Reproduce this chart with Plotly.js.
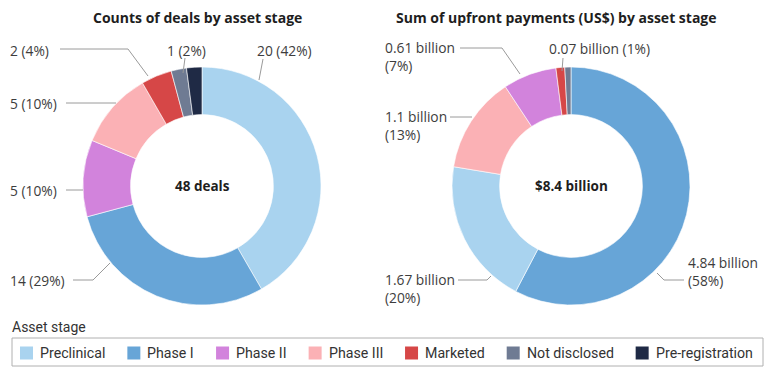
<!DOCTYPE html>
<html><head><meta charset="utf-8">
<script src="https://cdn.plot.ly/plotly-3.0.1.min.js"></script>
<style>html,body{margin:0;padding:0;background:#fff}#chart{width:767px;height:378px}</style>
</head><body><div id="chart"></div>
<script>
// ---- data ----
const stages = ['Preclinical','Phase I','Phase II','Phase III','Marketed','Not disclosed','Pre-registration'];
const dealStages = ['Preclinical','Phase I','Phase II','Phase III','Marketed','Not disclosed','Pre-registration'];
const dealCounts = [20,14,5,5,2,1,1];
const paymentStages = ['Phase I','Preclinical','Phase III','Phase II','Marketed','Not disclosed'];
const paymentBillions = [4.84,1.67,1.1,0.61,0.1,0.07];
const leftTitle = 'Counts of deals by asset stage';
const rightTitle = 'Sum of upfront payments (US$) by asset stage';
const legendTitle = 'Asset stage';

// ---- style ----
const stageColors = ['#a9d3ef','#67a5d7','#d283dc','#fbb1b5','#d64747','#6f7b93','#1f2a45'];
const W = 767, H = 378;
const px = x => x / W, py = y => 1 - y / H;
const colorOf = s => stageColors[stages.indexOf(s)];
const R = 119;
const leftC = {x: 202, y: 186}, rightC = {x: 571, y: 186};
const dom = c => ({x: [px(c.x - R), px(c.x + R)], y: [py(c.y + R), py(c.y - R)]});
const labelFont = {family: 'Open Sans, sans-serif', size: 13.8, color: '#3d3d3d'};
const lineColor = '#9a9a9a';

// label placement (layout only)
const dealLabelLayout = {
  'Preclinical':   {x: 284, y: 50, anchor: 'center', line: [[263,59],[259,80]]},
  'Not disclosed': {x: 186, y: 50, anchor: 'center', line: [[185,58],[183,73]]},
  'Marketed':      {x: 10,  y: 50, anchor: 'left', line: [[60,49],[128,49],[148,76]]},
  'Phase III':     {x: 10,  y: 103, anchor: 'left', line: [[66,103],[116,103]]},
  'Phase II':      {x: 10,  y: 190, anchor: 'left', line: [[66,190],[83,190]]},
  'Phase I':       {x: 10,  y: 280, anchor: 'left', line: [[73,280],[93,280],[110,263]]}
};
const payLabelLayout = {
  'Phase I':       {x: 688, y: 271, anchor: 'left', line: [[657,273],[664,280],[684,280]]},
  'Preclinical':   {x: 385, y: 288, anchor: 'left', line: [[458,280],[487,280],[491,276]]},
  'Phase III':     {x: 385, y: 125, anchor: 'left', line: [[450,117],[472,117]]},
  'Phase II':      {x: 385, y: 56,  anchor: 'left', line: [[460,48],[502,48],[520,74]]},
  'Not disclosed': {x: 599, y: 48,  anchor: 'center', oneLine: true, line: [[563,58],[562,71]]}
};

const sum = a => a.reduce((s, v) => s + v, 0);
const dealTotal = sum(dealCounts);
const payTotal = sum(paymentBillions);

const traces = [
  {type: 'pie', labels: dealStages, values: dealCounts, hole: 0.6, sort: false,
   direction: 'clockwise', rotation: 0, textinfo: 'none', hoverinfo: 'label+value',
   marker: {colors: dealStages.map(colorOf), line: {color: '#ffffff', width: 0.6}},
   domain: dom(leftC), showlegend: false},
  {type: 'pie', labels: paymentStages, values: paymentBillions, hole: 0.6, sort: false,
   direction: 'clockwise', rotation: 0, textinfo: 'none', hoverinfo: 'label+value',
   marker: {colors: paymentStages.map(colorOf), line: {color: '#ffffff', width: 0.6}},
   domain: dom(rightC), showlegend: false}
];

const annotations = [];
const shapes = [];
const ann = (x, y, text, font, xanchor, extra) => Object.assign({
  xref: 'paper', yref: 'paper', x: px(x), y: py(y), text, font, showarrow: false,
  xanchor: xanchor || 'left', yanchor: 'middle', align: xanchor === 'center' ? 'center' : 'left',
  borderpad: 0, borderwidth: 0
}, extra || {});
const path = pts => ({type: 'path', xref: 'paper', yref: 'paper',
  path: pts.map((p, i) => (i ? 'L' : 'M') + px(p[0]) + ',' + py(p[1])).join(' '),
  line: {color: lineColor, width: 1}});

const titleFont = {family: 'Open Sans, sans-serif', size: 14, color: '#1e1e1e', weight: 700};
annotations.push(ann(197, 17, leftTitle, titleFont, 'center'));
annotations.push(ann(556, 17, rightTitle, titleFont, 'center'));

dealStages.forEach((s, i) => {
  const L = dealLabelLayout[s]; if (!L) return;
  const pct = Math.round(dealCounts[i] / dealTotal * 100);
  annotations.push(ann(L.x, L.y, dealCounts[i] + ' (' + pct + '%)', labelFont, L.anchor));
  shapes.push(path(L.line));
});
paymentStages.forEach((s, i) => {
  const L = payLabelLayout[s]; if (!L) return;
  const pct = Math.round(paymentBillions[i] / payTotal * 100);
  const txt = paymentBillions[i] + ' billion' + (L.oneLine ? ' ' : '<br>') + '(' + pct + '%)';
  annotations.push(ann(L.x, L.y, txt, labelFont, L.anchor));
  shapes.push(path(L.line));
});

const centerFont = {family: 'Open Sans, sans-serif', size: 13.5, color: '#1e1e1e', weight: 700};
annotations.push(ann(leftC.x, leftC.y, dealTotal + ' deals', centerFont, 'center'));
annotations.push(ann(rightC.x, rightC.y, '$' + payTotal.toFixed(1) + ' billion', centerFont, 'center'));

// legend (manual, built from the stage list)
const legSize = 14.2;
const legFont = {family: 'Roboto, sans-serif', size: legSize, color: '#333333'};
annotations.push(ann(12, 327, legendTitle, {family: 'Roboto, sans-serif', size: 14, color: '#333333'}, 'left'));
shapes.push({type: 'rect', xref: 'paper', yref: 'paper', x0: px(12), x1: px(763), y0: py(366), y1: py(338),
  line: {color: '#b0b0b0', width: 1}, fillcolor: 'rgba(0,0,0,0)'});
const ctx = document.createElement('canvas').getContext('2d');
ctx.font = legSize + 'px Roboto';
let lx = 20;
stages.forEach((s, i) => {
  shapes.push({type: 'rect', xref: 'paper', yref: 'paper', x0: px(lx), x1: px(lx + 13),
    y0: py(359.5), y1: py(346.5), line: {width: 0}, fillcolor: stageColors[i]});
  annotations.push(ann(lx + 20, 353, s, legFont, 'left'));
  lx += 20 + ctx.measureText(s).width + 22;
});

const layout = {
  width: W, height: H, margin: {l: 0, r: 0, t: 0, b: 0},
  paper_bgcolor: '#ffffff', plot_bgcolor: '#ffffff',
  annotations, shapes, showlegend: false
};
Plotly.newPlot('chart', traces, layout, {displayModeBar: false, staticPlot: true});
</script>
</body></html>
